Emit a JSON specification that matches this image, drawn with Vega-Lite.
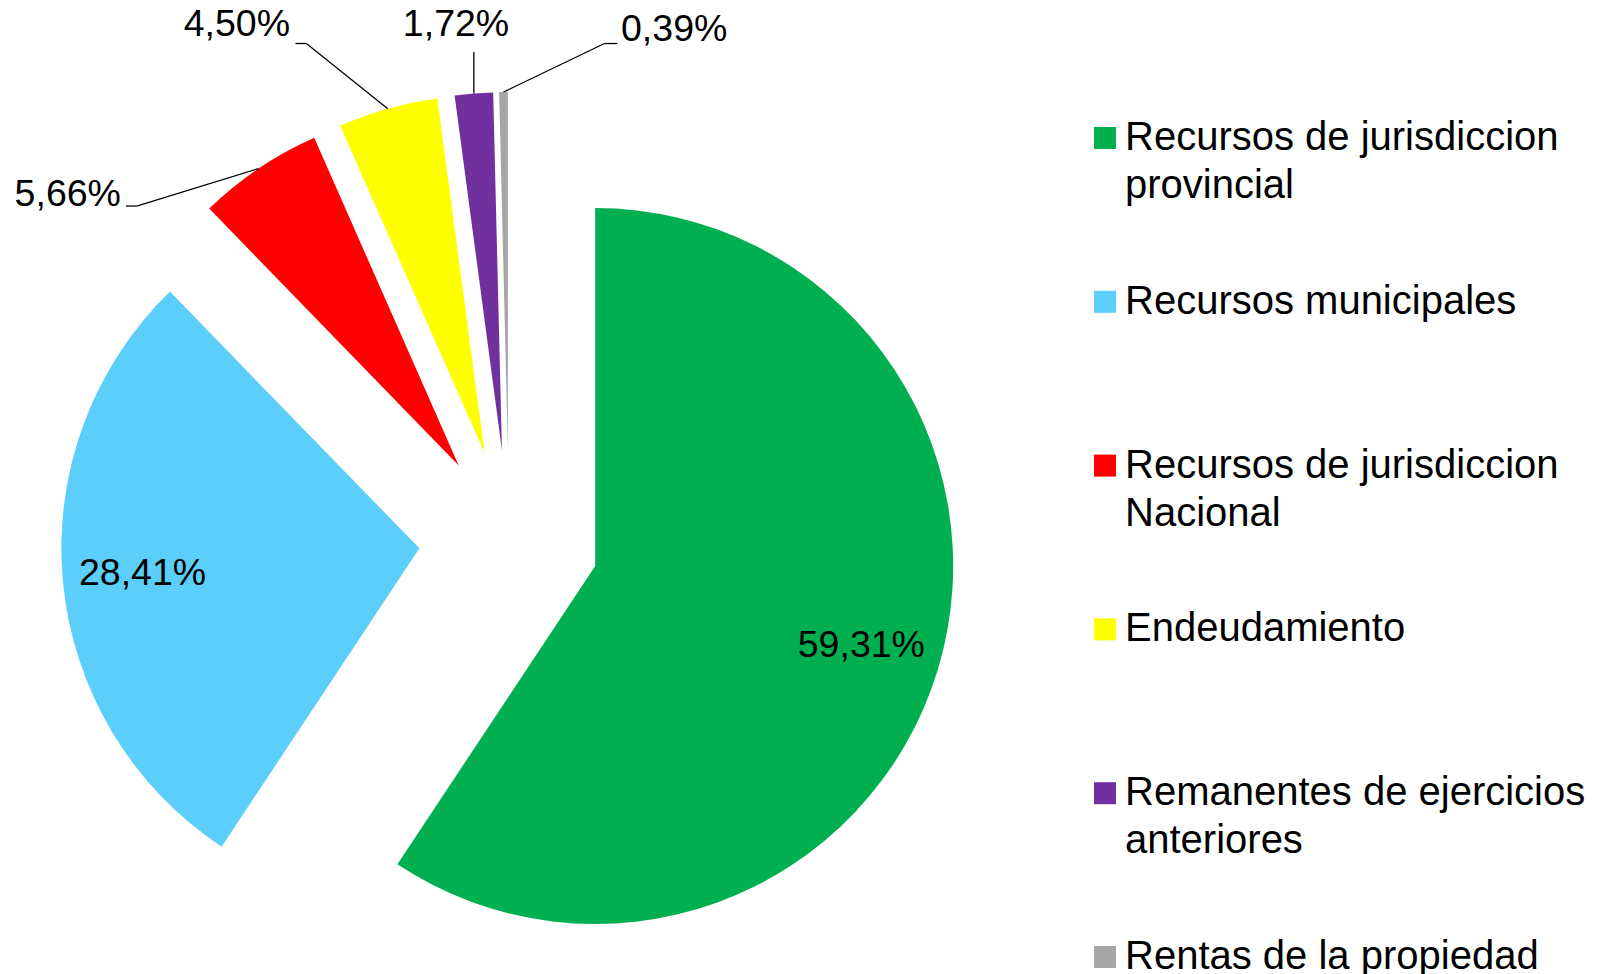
{
  "$schema": "https://vega.github.io/schema/vega-lite/v6.json",
  "width": 1610,
  "height": 974,
  "padding": 0,
  "autosize": {"type": "none"},
  "background": "white",
  "config": {"view": {"stroke": null}, "font": "Liberation Sans", "style": {"guide-label": {"lineHeight": 48.3}}},
  "data": {
    "values": [
      {"fuente": "Recursos de jurisdiccion provincial", "porcentaje": 59.31},
      {"fuente": "Recursos municipales", "porcentaje": 28.41},
      {"fuente": "Recursos de jurisdiccion Nacional", "porcentaje": 5.66},
      {"fuente": "Endeudamiento", "porcentaje": 4.50},
      {"fuente": "Remanentes de ejercicios anteriores", "porcentaje": 1.72},
      {"fuente": "Rentas de la propiedad", "porcentaje": 0.39}
    ]
  },
  "transform": [
    {"window": [{"op": "sum", "field": "porcentaje", "as": "acum"}], "frame": [null, 0]},
    {"joinaggregate": [{"op": "sum", "field": "porcentaje", "as": "total"}]},
    {"calculate": "2 * PI * (datum.acum - datum.porcentaje) / datum.total", "as": "a0"},
    {"calculate": "2 * PI * datum.acum / datum.total", "as": "a1"},
    {"calculate": "(datum.a0 + datum.a1) / 2", "as": "medio"},
    {"calculate": "90 * sin(datum.medio)", "as": "px"},
    {"calculate": "90 * cos(datum.medio)", "as": "py"},
    {"calculate": "448 * sin(datum.medio)", "as": "ax"},
    {"calculate": "448 * cos(datum.medio)", "as": "ay"},
    {"calculate": "368 * sin(datum.medio)", "as": "lx"},
    {"calculate": "368 * cos(datum.medio)", "as": "ly"},
    {"calculate": "replace(format(datum.porcentaje, '.2f'), '.', ',') + '%'", "as": "etiqueta"}
  ],
  "layer": [
    {
      "mark": {"type": "arc", "outerRadius": 358, "innerRadius": 0, "stroke": null},
      "encoding": {
        "x": {"field": "px", "type": "quantitative", "scale": {"domain": [-500, 500], "range": [9, 1009], "nice": false, "zero": false}, "axis": null},
        "y": {"field": "py", "type": "quantitative", "scale": {"domain": [-500, 500], "range": [1040, 40], "nice": false, "zero": false}, "axis": null},
        "theta": {"field": "a0", "type": "quantitative", "scale": null, "stack": null},
        "theta2": {"field": "a1"},
        "color": {
          "field": "fuente",
          "type": "nominal",
          "scale": {
            "domain": ["Recursos de jurisdiccion provincial", "Recursos municipales", "Recursos de jurisdiccion Nacional", "Endeudamiento", "Remanentes de ejercicios anteriores", "Rentas de la propiedad"],
            "range": ["#00B050", "#5BCEFA", "#FF0000", "#FFFF00", "#7030A0", "#A6A6A6"]
          },
          "legend": {
            "orient": "none",
            "legendX": 1085,
            "legendY": 118,
            "title": null,
            "symbolType": "square",
            "symbolSize": 484,
            "symbolStrokeWidth": 0,
            "labelFont": "Liberation Sans",
            "labelFontSize": 40,
            "labelColor": "black",
            "labelLimit": 0,
            "labelOffset": 0,
            "labelBaseline": "middle",
            "rowPadding": 74.8,
            "padding": 0,
            "labelExpr": "length(datum.label) > 25 ? [substring(datum.label, 0, lastindexof(datum.label, ' ')), substring(datum.label, lastindexof(datum.label, ' ') + 1)] : [datum.label, ' ']"
          }
        }
      }
    },
    {
      "transform": [{"filter": "datum.porcentaje > 20"}],
      "mark": {"type": "text", "fontSize": 37.5, "font": "Liberation Sans", "color": "black", "align": "center", "baseline": "middle"},
      "encoding": {
        "x": {"field": "lx", "type": "quantitative"},
        "y": {"field": "ly", "type": "quantitative"},
        "text": {"field": "etiqueta"}
      }
    },
    {
      "transform": [{"filter": "datum.fuente == 'Recursos de jurisdiccion Nacional'"}],
      "mark": {"type": "text", "fontSize": 37.5, "font": "Liberation Sans", "color": "black", "align": "right", "baseline": "alphabetic", "dx": -137.6, "dy": 37.5},
      "encoding": {"x": {"field": "ax", "type": "quantitative"}, "y": {"field": "ay", "type": "quantitative"}, "text": {"field": "etiqueta"}}
    },
    {
      "transform": [{"filter": "datum.fuente == 'Endeudamiento'"}],
      "mark": {"type": "text", "fontSize": 37.5, "font": "Liberation Sans", "color": "black", "align": "right", "baseline": "alphabetic", "dx": -97.8, "dy": -72.7},
      "encoding": {"x": {"field": "ax", "type": "quantitative"}, "y": {"field": "ay", "type": "quantitative"}, "text": {"field": "etiqueta"}}
    },
    {
      "transform": [{"filter": "datum.fuente == 'Remanentes de ejercicios anteriores'"}],
      "mark": {"type": "text", "fontSize": 37.5, "font": "Liberation Sans", "color": "black", "align": "center", "baseline": "alphabetic", "dx": -17.8, "dy": -57.4},
      "encoding": {"x": {"field": "ax", "type": "quantitative"}, "y": {"field": "ay", "type": "quantitative"}, "text": {"field": "etiqueta"}}
    },
    {
      "transform": [{"filter": "datum.fuente == 'Rentas de la propiedad'"}],
      "mark": {"type": "text", "fontSize": 37.5, "font": "Liberation Sans", "color": "black", "align": "left", "baseline": "alphabetic", "dx": 117.5, "dy": -51},
      "encoding": {"x": {"field": "ax", "type": "quantitative"}, "y": {"field": "ay", "type": "quantitative"}, "text": {"field": "etiqueta"}}
    },
    {
      "transform": [{"filter": "datum.fuente == 'Recursos de jurisdiccion Nacional'"}],
      "mark": {"type": "rule", "color": "black", "strokeWidth": 1.3, "x2Offset": -121.9, "y2Offset": 37.5},
      "encoding": {"x": {"field": "ax", "type": "quantitative"}, "y": {"field": "ay", "type": "quantitative"}, "x2": {"field": "ax"}, "y2": {"field": "ay"}}
    },
    {
      "transform": [{"filter": "datum.fuente == 'Recursos de jurisdiccion Nacional'"}],
      "mark": {"type": "rule", "color": "black", "strokeWidth": 1.3, "xOffset": -121.9, "yOffset": 37.5, "x2Offset": -132.6, "y2Offset": 37.5},
      "encoding": {"x": {"field": "ax", "type": "quantitative"}, "y": {"field": "ay", "type": "quantitative"}, "x2": {"field": "ax"}, "y2": {"field": "ay"}}
    },
    {
      "transform": [{"filter": "datum.fuente == 'Endeudamiento'"}],
      "mark": {"type": "rule", "color": "black", "strokeWidth": 1.3, "x2Offset": -81.4, "y2Offset": -65.2},
      "encoding": {"x": {"field": "ax", "type": "quantitative"}, "y": {"field": "ay", "type": "quantitative"}, "x2": {"field": "ax"}, "y2": {"field": "ay"}}
    },
    {
      "transform": [{"filter": "datum.fuente == 'Endeudamiento'"}],
      "mark": {"type": "rule", "color": "black", "strokeWidth": 1.3, "xOffset": -81.4, "yOffset": -65.2, "x2Offset": -92.3, "y2Offset": -65.2},
      "encoding": {"x": {"field": "ax", "type": "quantitative"}, "y": {"field": "ay", "type": "quantitative"}, "x2": {"field": "ax"}, "y2": {"field": "ay"}}
    },
    {
      "transform": [{"filter": "datum.fuente == 'Remanentes de ejercicios anteriores'"}],
      "mark": {"type": "rule", "color": "black", "strokeWidth": 1.3, "x2Offset": 0, "y2Offset": -41.4},
      "encoding": {"x": {"field": "ax", "type": "quantitative"}, "y": {"field": "ay", "type": "quantitative"}, "x2": {"field": "ax"}, "y2": {"field": "ay"}}
    },
    {
      "transform": [{"filter": "datum.fuente == 'Rentas de la propiedad'"}],
      "mark": {"type": "rule", "color": "black", "strokeWidth": 1.3, "x2Offset": 101, "y2Offset": -48.5},
      "encoding": {"x": {"field": "ax", "type": "quantitative"}, "y": {"field": "ay", "type": "quantitative"}, "x2": {"field": "ax"}, "y2": {"field": "ay"}}
    },
    {
      "transform": [{"filter": "datum.fuente == 'Rentas de la propiedad'"}],
      "mark": {"type": "rule", "color": "black", "strokeWidth": 1.3, "xOffset": 101, "yOffset": -48.5, "x2Offset": 113.8, "y2Offset": -48.5},
      "encoding": {"x": {"field": "ax", "type": "quantitative"}, "y": {"field": "ay", "type": "quantitative"}, "x2": {"field": "ax"}, "y2": {"field": "ay"}}
    }
  ]
}
